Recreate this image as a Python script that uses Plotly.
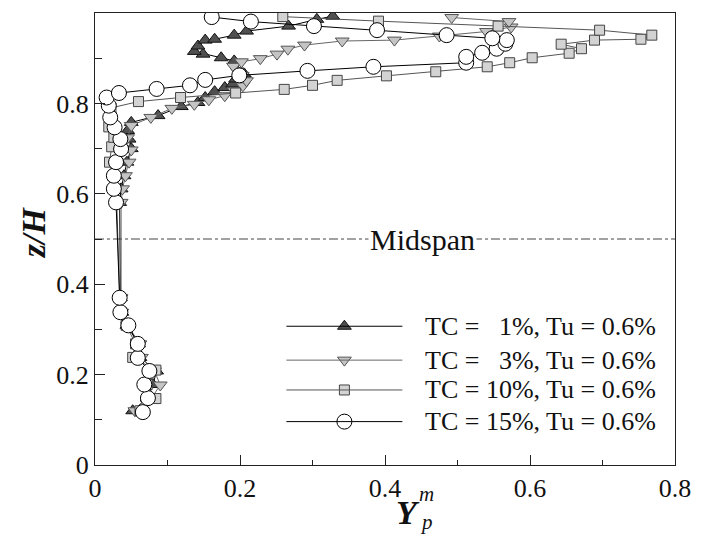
import plotly.graph_objects as go

# ---------------- data (Y_p^m vs z/H) ----------------
z_tc1 = [0.120, 0.148, 0.178, 0.208, 0.238, 0.268, 0.309, 0.338, 0.370, 0.581, 0.611, 0.640, 0.670,
         0.700, 0.721, 0.740, 0.758, 0.773, 0.793, 0.802, 0.813, 0.826, 0.835, 0.843, 0.854, 0.865,
         0.894, 0.901, 0.909, 0.915, 0.927, 0.940, 0.942, 0.951, 0.960, 0.971, 0.986, 0.993]
y_tc1 = [0.052, 0.072, 0.080, 0.085, 0.062, 0.060, 0.044, 0.037, 0.035, 0.034, 0.036, 0.040, 0.044,
         0.050, 0.047, 0.045, 0.050, 0.087, 0.119, 0.142, 0.152, 0.165, 0.179, 0.190, 0.194, 0.206,
         0.192, 0.174, 0.149, 0.137, 0.142, 0.152, 0.165, 0.192, 0.209, 0.267, 0.306, 0.328]

z_tc3 = [0.120, 0.148, 0.177, 0.208, 0.238, 0.268, 0.309, 0.338, 0.370, 0.581, 0.611, 0.640, 0.670,
         0.697, 0.724, 0.751, 0.769, 0.789, 0.798, 0.808, 0.817, 0.828, 0.839, 0.850, 0.862, 0.872,
         0.882, 0.892, 0.899, 0.909, 0.920, 0.929, 0.938, 0.940, 0.949, 0.959, 0.969, 0.981, 0.990]
y_tc3 = [0.055, 0.078, 0.090, 0.082, 0.064, 0.062, 0.045, 0.037, 0.036, 0.036, 0.038, 0.042, 0.047,
         0.050, 0.045, 0.050, 0.077, 0.106, 0.137, 0.157, 0.179, 0.192, 0.204, 0.209, 0.203, 0.196,
         0.191, 0.202, 0.228, 0.251, 0.266, 0.289, 0.341, 0.413, 0.475, 0.540, 0.574, 0.571, 0.492]

z_tc10 = [0.120, 0.147, 0.178, 0.210, 0.238, 0.268, 0.309, 0.338, 0.370, 0.581, 0.611, 0.640, 0.670,
          0.704, 0.725, 0.748, 0.770, 0.790, 0.804, 0.813, 0.823, 0.831, 0.840, 0.851, 0.861, 0.870,
          0.881, 0.890, 0.901, 0.911, 0.921, 0.931, 0.940, 0.942, 0.951, 0.962, 0.971, 0.982, 0.992]
y_tc10 = [0.062, 0.084, 0.072, 0.084, 0.052, 0.056, 0.043, 0.036, 0.034, 0.030, 0.027, 0.025, 0.020,
          0.023, 0.026, 0.019, 0.022, 0.022, 0.060, 0.118, 0.194, 0.261, 0.300, 0.334, 0.402, 0.470,
          0.541, 0.572, 0.603, 0.654, 0.671, 0.643, 0.689, 0.753, 0.768, 0.696, 0.556, 0.391, 0.259]

z_tc15 = [0.117, 0.148, 0.178, 0.208, 0.237, 0.268, 0.309, 0.338, 0.370, 0.581, 0.611, 0.640, 0.670,
          0.699, 0.721, 0.747, 0.769, 0.795, 0.813, 0.823, 0.832, 0.840, 0.852, 0.862, 0.872, 0.881,
          0.890, 0.903, 0.912, 0.921, 0.932, 0.940, 0.944, 0.951, 0.962, 0.971, 0.981, 0.991]
y_tc15 = [0.066, 0.073, 0.068, 0.075, 0.059, 0.059, 0.046, 0.035, 0.034, 0.029, 0.026, 0.026, 0.029,
          0.036, 0.035, 0.027, 0.021, 0.019, 0.016, 0.033, 0.085, 0.131, 0.152, 0.199, 0.293, 0.384,
          0.512, 0.512, 0.534, 0.554, 0.566, 0.568, 0.548, 0.485, 0.389, 0.302, 0.215, 0.161]

series_labels = ["TC = \u00a0\u00a01%, Tu = 0.6%", "TC = \u00a0\u00a03%, Tu = 0.6%",
                 "TC = 10%, Tu = 0.6%", "TC = 15%, Tu = 0.6%"]
x_ticks = [0, 0.2, 0.4, 0.6, 0.8]
y_ticks = [0, 0.2, 0.4, 0.6, 0.8, 1]
midspan_z = 0.5

FONT = "Times New Roman, Liberation Serif, DejaVu Serif, serif"

styles = [
    dict(symbol="triangle-up", size=12, color="#505050", lc="#000000", mlc="#111111"),
    dict(symbol="triangle-down", size=12, color="#c4c4c4", lc="#666666", mlc="#555555"),
    dict(symbol="square", size=10, color="#d3d3d3", lc="#555555", mlc="#444444"),
    dict(symbol="circle", size=15, color="#ffffff", lc="#000000", mlc="#000000"),
]
data = [(y_tc1, z_tc1), (y_tc3, z_tc3), (y_tc10, z_tc10), (y_tc15, z_tc15)]

fig = go.Figure()
for (xs, zs), st, lab in zip(data, styles, series_labels):
    fig.add_trace(go.Scatter(
        x=xs, y=zs, mode="lines+markers", name=lab, showlegend=False,
        line=dict(color=st["lc"], width=1),
        marker=dict(symbol=st["symbol"], size=st["size"], color=st["color"],
                    line=dict(color=st["mlc"], width=1)),
    ))

# ---- custom legend (long line keys) on an overlay axis spanning the plot area ----
leg_rows = [0.307, 0.232, 0.166, 0.096]
shapes = []
annotations = []
for st, lab, ry in zip(styles, series_labels, leg_rows):
    shapes.append(dict(type="line", xref="paper", yref="paper", x0=0.33, x1=0.53, y0=ry, y1=ry,
                       line=dict(color=st["lc"], width=1)))
    fig.add_trace(go.Scatter(
        x=[0.43], y=[ry], xaxis="x2", yaxis="y2", mode="markers", showlegend=False,
        hoverinfo="skip",
        marker=dict(symbol=st["symbol"], size=st["size"], color=st["color"],
                    line=dict(color=st["mlc"], width=1)),
    ))
    annotations.append(dict(x=0.565, y=ry, xref="paper", yref="paper", text=lab, showarrow=False,
                            xanchor="left", yanchor="middle",
                            font=dict(family=FONT, size=26, color="#111111")))

# midspan line
shapes.append(dict(type="line", xref="x", yref="y", x0=0, x1=0.8, y0=midspan_z, y1=midspan_z,
                   line=dict(color="#444444", width=1, dash="dashdot"), layer="below"))
annotations.append(dict(x=0.452, y=midspan_z, xref="x", yref="y", text="Midspan", showarrow=False,
                        bgcolor="white", xanchor="center", yanchor="middle",
                        font=dict(family=FONT, size=30, color="#111111")))

# axis titles
annotations.append(dict(x=-0.107, y=0.515, xref="paper", yref="paper", text="<b><i>z/H</i></b>",
                        showarrow=False, textangle=-90, xanchor="center", yanchor="middle",
                        font=dict(family=FONT, size=34, color="#111111")))
annotations.append(dict(x=0.54, y=-0.105, xref="paper", yref="paper", text="<b><i>Y</i></b>",
                        showarrow=False, xanchor="center", yanchor="middle",
                        font=dict(family=FONT, size=34, color="#111111")))
annotations.append(dict(x=0.572, y=-0.064, xref="paper", yref="paper", text="<i>m</i>",
                        showarrow=False, xanchor="center", yanchor="middle",
                        font=dict(family=FONT, size=21, color="#111111")))
annotations.append(dict(x=0.572, y=-0.126, xref="paper", yref="paper", text="<i>p</i>",
                        showarrow=False, xanchor="center", yanchor="middle",
                        font=dict(family=FONT, size=21, color="#111111")))

axis_common = dict(showgrid=False, zeroline=False, showline=True, linecolor="#222222", linewidth=1,
                   mirror=True, ticks="inside", ticklen=10, tickcolor="#222222",
                   tickfont=dict(family=FONT, size=26, color="#111111"))
fig.update_layout(
    width=703, height=534,
    margin=dict(l=95, r=17, t=12, b=69),
    paper_bgcolor="white", plot_bgcolor="white",
    font=dict(family=FONT),
    xaxis=dict(range=[0, 0.8], tickvals=x_ticks, ticktext=[f"{v:g}" for v in x_ticks],
               minor=dict(ticks="inside", ticklen=5, dtick=0.1, tickcolor="#222222"), **axis_common),
    yaxis=dict(range=[0, 1], tickvals=y_ticks, ticktext=[f"{v:g}" for v in y_ticks],
               minor=dict(ticks="inside", ticklen=7, dtick=0.1, tickcolor="#222222"), **axis_common),
    xaxis2=dict(overlaying="x", range=[0, 1], visible=False),
    yaxis2=dict(overlaying="y", range=[0, 1], visible=False),
    shapes=shapes, annotations=annotations, showlegend=False,
)
fig.write_html("out.html")
